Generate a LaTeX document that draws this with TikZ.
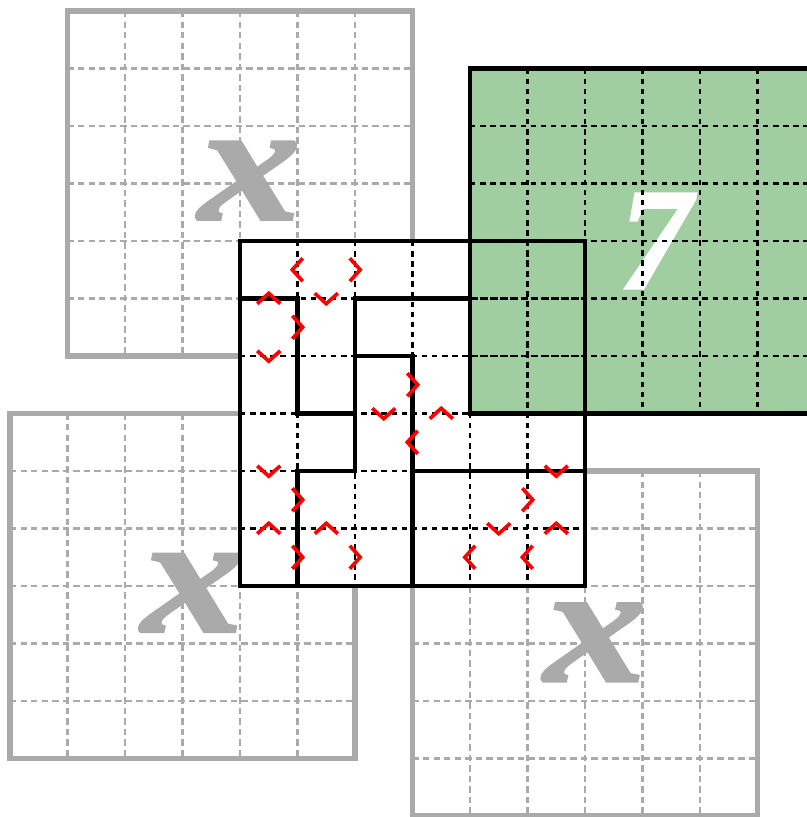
\documentclass[tikz,border=0pt]{standalone}
\usepackage{fontspec}
\newfontfamily\glyphfont{Liberation Serif}[BoldItalicFeatures={FakeBold=1.5}]
\definecolor{gridgray}{RGB}{170,170,170}
\definecolor{cellgreen}{RGB}{160,206,160}
\definecolor{markred}{RGB}{255,0,0}
\tikzset{
  graydash/.style={draw=gridgray, line width=1.25pt, dash pattern=on 3.2pt off 2pt},
  grayborder/.style={draw=gridgray, line width=2.5pt, line join=miter},
  blackdash/.style={draw=black, line width=1.4pt, dash pattern=on 2.7pt off 2.3pt},
  blackborder/.style={draw=black, line width=2.4pt, line cap=rect, line join=miter},
  chev/.style={draw=markred, line width=1.8pt, line join=miter},
  xmark/.style={text=gridgray, font=\glyphfont\bfseries\itshape\fontsize{84}{84}\selectfont, inner sep=0pt},
  sevenmark/.style={text=white, font=\glyphfont\bfseries\itshape\fontsize{72}{72}\selectfont, inner sep=0pt},
  chevron/.pic={\draw[chev] (-0.09,0.2) -- (0.09,0) -- (-0.09,-0.2);}
}
\newcommand\inngrid[3]{%
  \foreach \k in {1,...,5}{%
    \draw[#3] (#1+\k,#2) -- (#1+\k,#2-6);
    \draw[#3] (#1,#2-\k) -- (#1+6,#2-\k);
  }}
\newcommand\wideX{\scalebox{1.2}[1]{x}}
\begin{document}
\begin{tikzpicture}
\useasboundingbox (-0.1739,0.1913) rectangle (13.8609,-14.0174);
% gray grids
\inngrid{1}{0}{graydash}
\draw[grayborder] (1,0) rectangle (7,-6);
\inngrid{0}{-7}{graydash}
\draw[grayborder] (0,-7) rectangle (6,-13);
\inngrid{7}{-8}{graydash}
\draw[grayborder] (7,-8) rectangle (13,-14);
% x marks
\node[xmark] (xa) at (4.17,-2.95) {\wideX};
\node[xmark] (xb) at (3.18,-10.12) {\wideX};
\node[xmark] (xc) at (10.18,-10.98) {\wideX};
% central background
\fill[white] (4,-4) rectangle (10,-10);
% green grid
\fill[cellgreen] (8,-1) rectangle (14,-7);
\node[sevenmark] (seven) at (11.22,-4.0) {7};
\inngrid{8}{-1}{blackdash}
\draw[blackborder] (8,-1) rectangle (14,-7);
% central grid
\inngrid{4}{-4}{blackdash}
\draw[blackborder] (4,-4) rectangle (10,-10);
\draw[blackborder] (4,-5) -- (5,-5) -- (5,-7) -- (6,-7);
\draw[blackborder] (8,-5) -- (6,-5) -- (6,-8) -- (5,-8) -- (5,-10);
\draw[blackborder] (6,-6) -- (7,-6) -- (7,-10);
\draw[blackborder] (7,-8) -- (10,-8);
% red chevrons: > rotate 0, ^ 90, < 180, v 270
\pic[rotate=180] at (5,-4.5) {chevron};
\pic at (6,-4.5) {chevron};
\pic[rotate=90] at (4.5,-5) {chevron};
\pic[rotate=270] at (5.5,-5) {chevron};
\pic at (5,-5.5) {chevron};
\pic[rotate=270] at (4.5,-6) {chevron};
\pic at (7,-6.5) {chevron};
\pic[rotate=270] at (6.5,-7) {chevron};
\pic[rotate=90] at (7.5,-7) {chevron};
\pic[rotate=180] at (7,-7.5) {chevron};
\pic[rotate=270] at (4.5,-8) {chevron};
\pic at (5,-8.5) {chevron};
\pic[rotate=270] at (9.5,-8) {chevron};
\pic at (9,-8.5) {chevron};
\pic[rotate=90] at (4.5,-9) {chevron};
\pic[rotate=90] at (5.5,-9) {chevron};
\pic[rotate=270] at (8.5,-9) {chevron};
\pic[rotate=90] at (9.5,-9) {chevron};
\pic at (5,-9.5) {chevron};
\pic at (6,-9.5) {chevron};
\pic[rotate=180] at (8,-9.5) {chevron};
\pic[rotate=180] at (9,-9.5) {chevron};
\end{tikzpicture}
\end{document}
